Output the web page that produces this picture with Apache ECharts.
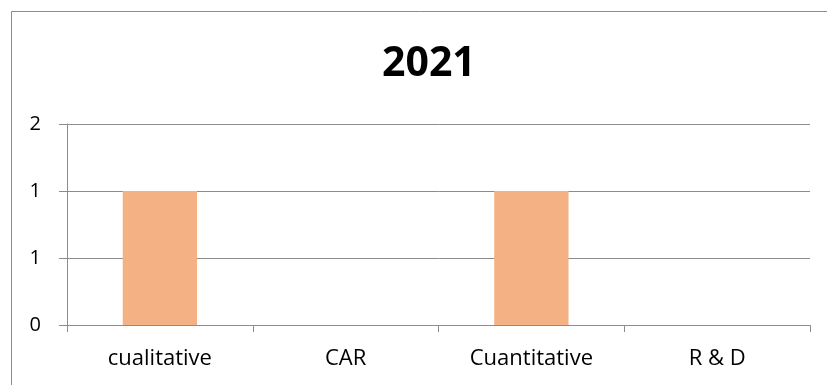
<!DOCTYPE html>
<html><head><meta charset="utf-8">
<script src="https://cdn.jsdelivr.net/npm/echarts@6/dist/echarts.min.js"></script>
<style>html,body{margin:0;padding:0;background:#fff}#c{width:827px;height:385px}</style>
</head><body><div id="c"></div>
<script>
const title = '2021';
const categories = ['cualitative', 'CAR', 'Cuantitative', 'R & D'];
const values = [1, 0, 1, 0];
const yMin = 0, yMax = 1.5, yInterval = 0.5;

const chart = echarts.init(document.getElementById('c'));
chart.setOption({
  animation: false,
  backgroundColor: '#fff',
  graphic: [{type: 'rect', shape: {x: 11.5, y: 11.5, width: 830, height: 400}, style: {fill: 'none', stroke: '#8c8c8c', lineWidth: 1}}],
  title: {text: title, left: 377, top: 39, textStyle: {fontFamily: 'Open Sans', fontWeight: 'bold', fontSize: 41, color: '#000'}},
  grid: {left: 67, right: 17, top: 124, bottom: 60},
  xAxis: {type: 'category', data: categories,
    axisLine: {lineStyle: {color: '#8c8c8c'}},
    axisTick: {show: true, length: 7, lineStyle: {color: '#8c8c8c'}},
    axisLabel: {fontFamily: 'Open Sans', fontSize: 22, color: '#000', margin: 23}},
  yAxis: {type: 'value', min: yMin, max: yMax, interval: yInterval,
    axisLine: {show: true, lineStyle: {color: '#8c8c8c'}},
    axisTick: {show: true, length: 8, lineStyle: {color: '#8c8c8c'}},
    splitLine: {lineStyle: {color: '#8c8c8c'}},
    axisLabel: {fontFamily: 'Open Sans', fontSize: 20, color: '#000', margin: 26, formatter: v => String(Math.round(v))}},
  series: [{type: 'bar', data: values, barWidth: '40%', itemStyle: {color: '#F4B183'}}]
});
</script></body></html>
